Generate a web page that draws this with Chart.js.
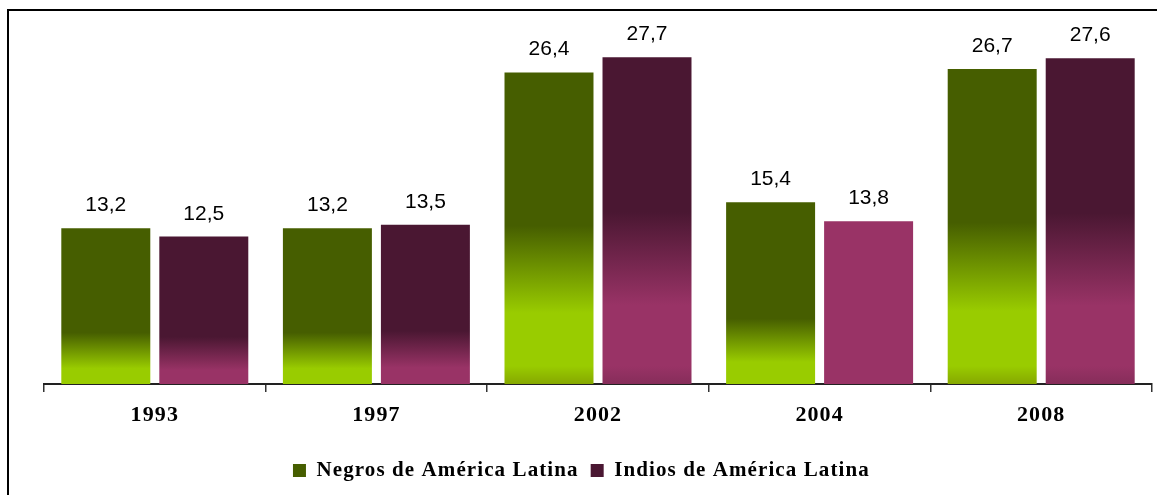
<!DOCTYPE html>
<html>
<head>
<meta charset="utf-8">
<script src="https://cdn.jsdelivr.net/npm/chart.js@4.4.0/dist/chart.umd.min.js"></script>
<style>
  html, body { margin: 0; padding: 0; background: #fff; overflow: hidden; }
  #wrap { position: relative; width: 1157px; height: 495px; }
  #frame { position: absolute; left: 7px; top: 9px; width: 1300px; height: 700px; border: 2px solid #000; pointer-events: none; }
  canvas { position: absolute; left: 0; top: 0; }
</style>
</head>
<body>
<div id="wrap">
  <canvas id="chart" width="1157" height="495"></canvas>
  <div id="frame"></div>
</div>
<script>
// data
const years = ["1993", "1997", "2002", "2004", "2008"];
const negros = [13.2, 13.2, 26.4, 15.4, 26.7];
const indios = [12.5, 13.5, 27.7, 13.8, 27.6];
const seriesNames = ["Negros de América Latina", "Indios de América Latina"];

// the 2004 "indios" bar has a flat fill in the original
const flatIndios = [3];
const legendColors = ["#465e00", "#4a1732"];

// gradient fill per bar: dark at top, light near the base
function barFill(dark, light, bottom, flat) {
  return (ctx) => {
    if (ctx.type !== "data") return dark;
    if (flat && flat.includes(ctx.dataIndex)) return light;
    const y = ctx.chart.scales.y;
    if (!y) return dark;
    const top = y.getPixelForValue(ctx.raw);
    const base = y.getPixelForValue(0);
    const h = base - top;
    if (!isFinite(top) || !isFinite(base) || h <= 0) return dark;
    const s = Math.min(h, (0.15 + 0.00115 * h) * h);
    const e = Math.max(0, (-0.03 + 0.00083 * h) * h);
    const g = ctx.chart.ctx.createLinearGradient(0, top, 0, base);
    g.addColorStop(0, dark);
    g.addColorStop(1 - s / h, dark);
    g.addColorStop(1 - e / h, light);
    if (e > 30) {
      g.addColorStop(1 - 18 / h, light);
      g.addColorStop(1, bottom);
    } else {
      g.addColorStop(1, light);
    }
    return g;
  };
}

// value labels above bars
const valueLabels = {
  id: "valueLabels",
  afterDatasetsDraw(chart) {
    const c = chart.ctx;
    c.save();
    c.letterSpacing = "0px";
    c.font = '21px "Liberation Sans", Arial, sans-serif';
    c.fillStyle = "#000";
    c.textAlign = "center";
    c.textBaseline = "alphabetic";
    chart.data.datasets.forEach((ds, i) => {
      chart.getDatasetMeta(i).data.forEach((bar, j) => {
        c.fillText(ds.data[j].toFixed(1).replace(".", ","), bar.x, bar.y - 17);
      });
    });
    c.restore();
  }
};

// the serif texts (axis, legend) are a little spaced out in the original,
// and the legend sits left of centre
const textTweaks = {
  id: "textTweaks",
  afterLayout(chart) {
    chart.legend.left -= 43;
    chart.legend.right -= 43;
  },
  beforeDraw(chart) {
    chart.ctx.letterSpacing = "1.1px";
  },
  afterDraw(chart) {
    chart.ctx.letterSpacing = "0px";
  }
};

new Chart(document.getElementById("chart").getContext("2d"), {
  type: "bar",
  data: {
    labels: years,
    datasets: [{
      label: seriesNames[0],
      data: negros,
      backgroundColor: barFill("#465e00", "#99cc00", "#86a800"),
      borderWidth: 0,
      categoryPercentage: 0.8845,
      barPercentage: 0.908
    }, {
      label: seriesNames[1],
      data: indios,
      backgroundColor: barFill("#4a1732", "#993366", "#862d5a", flatIndios),
      borderWidth: 0,
      categoryPercentage: 0.8845,
      barPercentage: 0.908
    }]
  },
  options: {
    responsive: false,
    animation: false,
    layout: {
      padding: { left: 44, right: 5, top: 30, bottom: 4 }
    },
    plugins: {
      tooltip: { enabled: false },
      legend: {
        position: "bottom",
        labels: {
          color: "#000",
          boxWidth: 13,
          boxHeight: 13,
          padding: 12,
          font: { family: '"Liberation Serif", "Times New Roman", serif', size: 21, weight: "bold" },
          generateLabels(chart) {
            const items = Chart.defaults.plugins.legend.labels.generateLabels(chart);
            items.forEach((it, i) => {
              it.fillStyle = legendColors[i];
              it.strokeStyle = legendColors[i];
              it.lineWidth = 0;
            });
            return items;
          }
        }
      }
    },
    scales: {
      x: {
        grid: {
          display: true,
          drawOnChartArea: false,
          drawTicks: true,
          tickLength: 8,
          color: "#333",
          lineWidth: 1.5,
          offset: true
        },
        border: { display: true, color: "#222", width: 2 },
        ticks: {
          color: "#000",
          padding: 10,
          maxRotation: 0,
          font: { family: '"Liberation Serif", "Times New Roman", serif', size: 22, weight: "bold" }
        },
        afterFit(scale) {
          scale.height = 64;
        }
      },
      y: {
        display: false,
        min: 0,
        max: 30
      }
    }
  },
  plugins: [valueLabels, textTweaks]
});
</script>
</body>
</html>
